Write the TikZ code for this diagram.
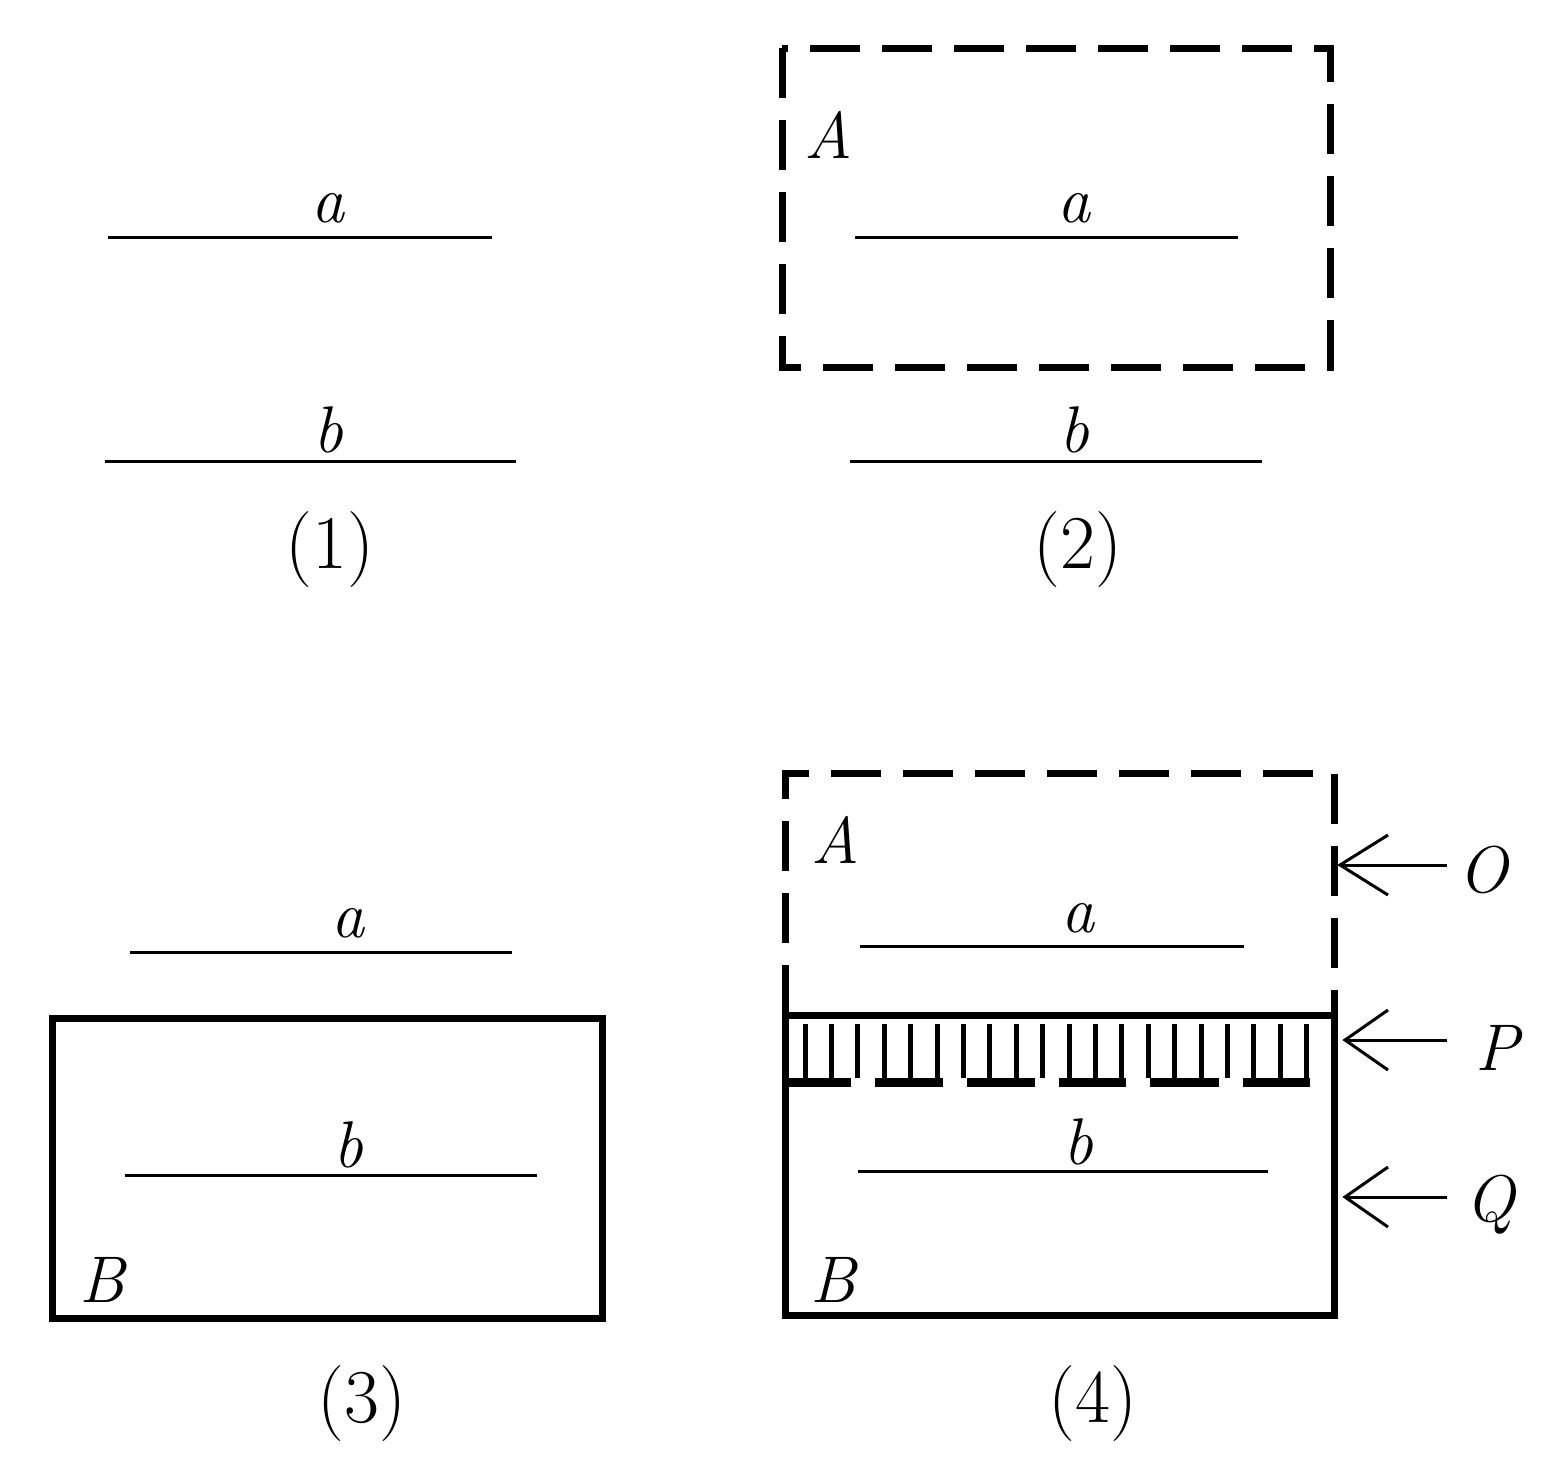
\documentclass[tikz,border=0pt]{standalone}
\begin{document}
\begin{tikzpicture}[x=1pt,y=-1pt,
 thinl/.style={line width=3pt},
 box/.style={line width=7pt},
 dbox/.style={line width=7pt,dash pattern=on 50pt off 22pt},
 lbl/.style={inner sep=0pt,font=\fontsize{66}{70}\selectfont\itshape},
 num/.style={inner sep=0pt,font=\fontsize{76}{80}\selectfont},
 arr/.style={line width=3pt}]
\useasboundingbox (0,0) rectangle (1550,1462);
% panel 1
\draw[thinl] (108,237) -- (492,237); \node[lbl] (a1) at (328,208) {a};
\draw[thinl] (105,461) -- (516,461); \node[lbl] (b1) at (328,430) {b};
\node[num] (n1) at (330,550) {(1)};
% panel 2
\draw[dbox] (782,48) rectangle (1330,367);
\node[lbl] (A2) at (828,135) {A};
\draw[thinl] (855,237) -- (1238,237); \node[lbl] (a2) at (1074,208) {a};
\draw[thinl] (850,461) -- (1262,461); \node[lbl] (b2) at (1074,430) {b};
\node[num] (n2) at (1078,550) {(2)};
% panel 3
\draw[thinl] (130,952) -- (512,952); \node[lbl] (a3) at (348,923) {a};
\draw[box] (52,1018) rectangle (602,1318);
\draw[thinl] (125,1175) -- (537,1175); \node[lbl] (b3) at (348,1145) {b};
\node[lbl] (B3) at (102,1280) {B};
\node[num] (n3) at (362,1404) {(3)};
% panel 4
\draw[dbox] (785,1015) -- (785,773) -- (1334,773) -- (1334,1015);
\node[lbl] (A4) at (835,840) {A};
\draw[thinl] (860,946) -- (1244,946); \node[lbl] (a4) at (1078,918) {a};
\draw[box] (785,1015) rectangle (1334,1315);
\foreach \i in {0,...,19} \draw[line width=5pt] ({805+\i*26.4},1024) -- ({805+\i*26.4},1078);
\foreach \s/\e in {788/851,875/943,967/1035,1059/1126,1150/1219,1243/1310}
  \draw[line width=9pt] (\s,1082) -- (\e,1082);
\draw[thinl] (858,1171) -- (1268,1171); \node[lbl] (b4) at (1078,1142) {b};
\node[lbl] (B4) at (833,1280) {B};
\node[num] (n4) at (1093,1404) {(4)};
% arrows
\node[lbl] (O) at (1483,870) {O};
\node[lbl] (P) at (1497,1048) {P};
\node[lbl] (Q) at (1490,1205) {Q};
\coordinate (to) at (1340,865); \coordinate (tp) at (1345,1040); \coordinate (tq) at (1345,1197);
\foreach \t/\y in {to/865,tp/1040,tq/1197}{
 \draw[arr] (1447,\y) -- (\t);
 \draw[arr] (1388,\y-30) -- (\t) -- (1388,\y+30);
}
\end{tikzpicture}
\end{document}
